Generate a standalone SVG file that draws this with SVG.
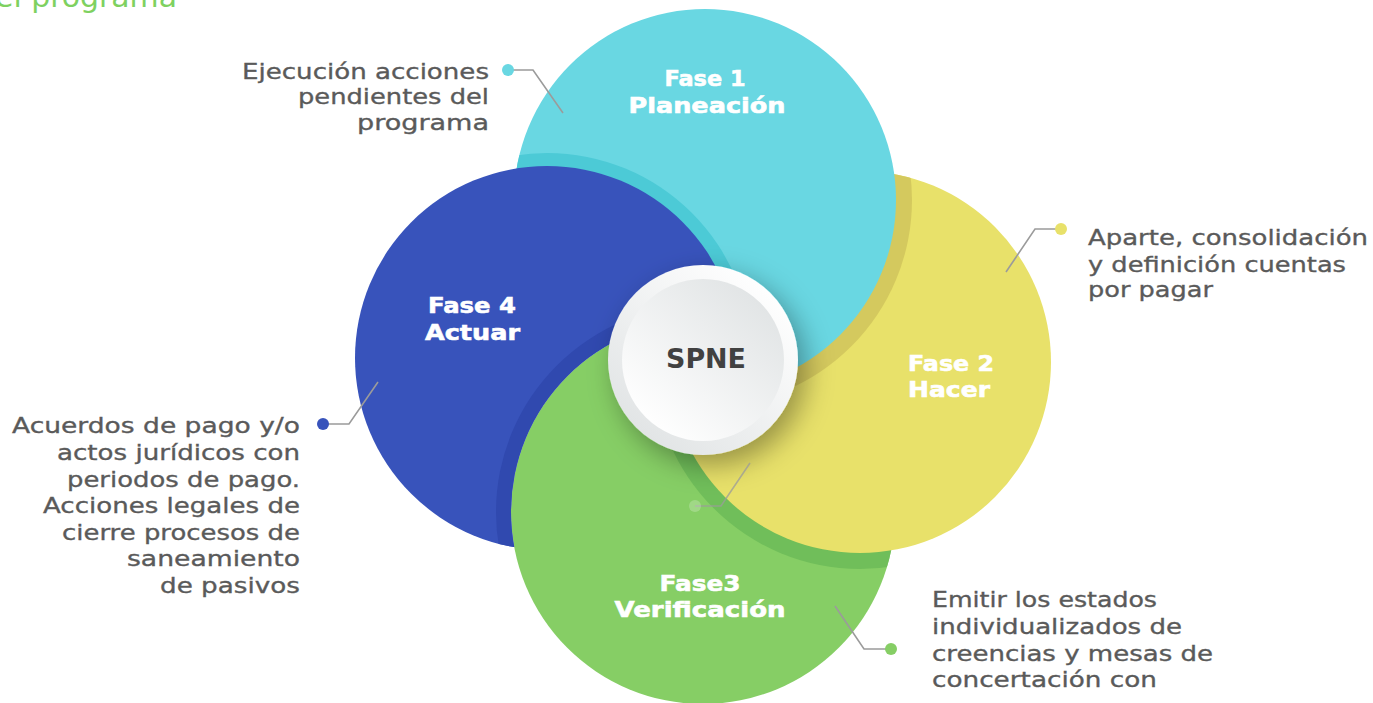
<svg xmlns="http://www.w3.org/2000/svg" width="1373" height="703" viewBox="0 0 1373 703">
<style>
.note{font-family:"DejaVu Sans","Liberation Sans",sans-serif;fill:#5a5a5a;font-size:22px;stroke:#5a5a5a;stroke-width:0.35;}
.lbl{font-family:"DejaVu Sans","Liberation Sans",sans-serif;font-weight:700;fill:#ffffff;font-size:22px;stroke:#ffffff;stroke-width:0.6;}
.conn{fill:none;stroke:#9b9b9b;stroke-width:1.6;}
</style>
<defs>
<clipPath id="clipCyan"><circle cx="705" cy="200" r="191"/></clipPath>
<clipPath id="clipYellow"><circle cx="860" cy="362" r="191"/></clipPath>
<clipPath id="clipGreen"><circle cx="703" cy="512" r="192"/></clipPath>
<clipPath id="clipBlue"><circle cx="547" cy="358" r="192"/></clipPath>
<clipPath id="clipLeft"><rect x="0" y="0" width="690" height="703"/></clipPath>
<mask id="notGreen" maskUnits="userSpaceOnUse" x="0" y="0" width="1373" height="703">
<rect x="0" y="0" width="1373" height="703" fill="#fff"/>
<circle cx="703" cy="512" r="192" fill="#000"/>
</mask>
<mask id="notGreenLeft" maskUnits="userSpaceOnUse" x="0" y="0" width="1373" height="703">
<rect x="0" y="0" width="1373" height="703" fill="#fff"/>
<circle cx="703" cy="512" r="192" fill="#000" clip-path="url(#clipLeft)"/>
</mask>
<linearGradient id="ringG" x1="0.85" y1="0.1" x2="0.15" y2="0.9">
<stop offset="0" stop-color="#ffffff"/>
<stop offset="1" stop-color="#e1e4e5"/>
</linearGradient>
<linearGradient id="innerG" x1="0.85" y1="0.1" x2="0.15" y2="0.9">
<stop offset="0" stop-color="#e1e4e5"/>
<stop offset="1" stop-color="#ffffff"/>
</linearGradient>
<filter id="spneShadow" x="-40%" y="-40%" width="180%" height="180%">
<feDropShadow dx="8" dy="10" stdDeviation="14" flood-color="#000" flood-opacity="0.35"/>
</filter>
</defs>

<text x="177" y="6.5" text-anchor="end" font-family="DejaVu Sans, Liberation Sans, sans-serif" font-size="29" fill="#7ed160" textLength="182" lengthAdjust="spacingAndGlyphs">el programa</text>

<g id="node-fase3">
<circle cx="703" cy="512" r="192" fill="#86ce65"/>
<text class="lbl" x="700" y="591" text-anchor="middle" textLength="81" lengthAdjust="spacingAndGlyphs">Fase3</text>
<text class="lbl" x="700" y="617" text-anchor="middle" textLength="171" lengthAdjust="spacingAndGlyphs">Verificación</text>
</g>

<g id="node-fase2">
<circle cx="860" cy="362" r="207" fill="#70be5a" clip-path="url(#clipGreen)"/>
<circle cx="860" cy="362" r="191" fill="#e8e16a"/>
<text class="lbl" x="908" y="371" textLength="86" lengthAdjust="spacingAndGlyphs">Fase 2</text>
<text class="lbl" x="908" y="397" textLength="82" lengthAdjust="spacingAndGlyphs">Hacer</text>
</g>

<g id="node-fase1">
<circle cx="705" cy="200" r="207" fill="#d4c95e" clip-path="url(#clipYellow)"/>
<circle cx="705" cy="200" r="191" fill="#69d7e2" mask="url(#notGreenLeft)"/>
<text class="lbl" x="705" y="86" text-anchor="middle" textLength="81" lengthAdjust="spacingAndGlyphs">Fase 1</text>
<text class="lbl" x="707" y="113" text-anchor="middle" textLength="157" lengthAdjust="spacingAndGlyphs">Planeación</text>
</g>

<g id="node-fase4">
<g mask="url(#notGreen)">
<circle cx="547" cy="358" r="205" fill="#4ccad6" clip-path="url(#clipCyan)"/>
<circle cx="547" cy="358" r="192" fill="#3853bb"/>
</g>
<g clip-path="url(#clipBlue)">
<circle cx="703" cy="512" r="207" fill="#3049af" mask="url(#notGreen)"/>
</g>
<text class="lbl" x="472" y="313" text-anchor="middle" textLength="88" lengthAdjust="spacingAndGlyphs">Fase 4</text>
<text class="lbl" x="472.5" y="340" text-anchor="middle" textLength="95" lengthAdjust="spacingAndGlyphs">Actuar</text>
</g>

<g id="node-spne">
<circle cx="703" cy="360" r="95" fill="url(#ringG)" filter="url(#spneShadow)"/>
<circle cx="703" cy="360" r="81" fill="url(#innerG)"/>
<text x="706" y="368" text-anchor="middle" font-family="DejaVu Sans, Liberation Sans, sans-serif" font-weight="700" font-size="27" fill="#414141" textLength="80" lengthAdjust="spacingAndGlyphs">SPNE</text>
</g>

<g id="connectors">
<polyline class="conn" points="508,70 533,70 563,113"/>
<circle cx="508" cy="70" r="6" fill="#69d7e2"/>
<polyline class="conn" points="1061,229 1035,229 1006,272"/>
<circle cx="1061" cy="229" r="6" fill="#e8e16a"/>
<polyline class="conn" points="891,649 864,649 835,606"/>
<circle cx="891" cy="649" r="6" fill="#86ce65"/>
<polyline class="conn" points="323,424 349,424 378,382"/>
<circle cx="323" cy="424" r="6" fill="#3853bb"/>
<polyline class="conn" points="695,506 721,506 750,463" opacity="0.75"/>
<circle cx="695" cy="506" r="6" fill="#ffffff" opacity="0.22"/>
</g>

<g id="note-fase1">
<text class="note" text-anchor="end" x="489" y="79" textLength="247" lengthAdjust="spacingAndGlyphs">Ejecución acciones</text>
<text class="note" text-anchor="end" x="489" y="104" textLength="191" lengthAdjust="spacingAndGlyphs">pendientes del</text>
<text class="note" text-anchor="end" x="489" y="130" textLength="132" lengthAdjust="spacingAndGlyphs">programa</text>
</g>

<g id="note-fase2">
<text class="note" x="1088" y="245" textLength="280" lengthAdjust="spacingAndGlyphs">Aparte, consolidación</text>
<text class="note" x="1088" y="272" textLength="258" lengthAdjust="spacingAndGlyphs">y definición cuentas</text>
<text class="note" x="1088" y="297" textLength="125" lengthAdjust="spacingAndGlyphs">por pagar</text>
</g>

<g id="note-fase3">
<text class="note" x="932" y="607" textLength="225" lengthAdjust="spacingAndGlyphs">Emitir los estados</text>
<text class="note" x="932" y="634" textLength="250" lengthAdjust="spacingAndGlyphs">individualizados de</text>
<text class="note" x="932" y="661" textLength="281" lengthAdjust="spacingAndGlyphs">creencias y mesas de</text>
<text class="note" x="932" y="687" textLength="225" lengthAdjust="spacingAndGlyphs">concertación con</text>
</g>

<g id="note-fase4">
<text class="note" text-anchor="end" x="300" y="433" textLength="288" lengthAdjust="spacingAndGlyphs">Acuerdos de pago y/o</text>
<text class="note" text-anchor="end" x="300" y="460" textLength="243" lengthAdjust="spacingAndGlyphs">actos jurídicos con</text>
<text class="note" text-anchor="end" x="300" y="487" textLength="233" lengthAdjust="spacingAndGlyphs">periodos de pago.</text>
<text class="note" text-anchor="end" x="300" y="513" textLength="257" lengthAdjust="spacingAndGlyphs">Acciones legales de</text>
<text class="note" text-anchor="end" x="300" y="540" textLength="238" lengthAdjust="spacingAndGlyphs">cierre procesos de</text>
<text class="note" text-anchor="end" x="300" y="566" textLength="173" lengthAdjust="spacingAndGlyphs">saneamiento</text>
<text class="note" text-anchor="end" x="300" y="593" textLength="140" lengthAdjust="spacingAndGlyphs">de pasivos</text>
</g>
</svg>
